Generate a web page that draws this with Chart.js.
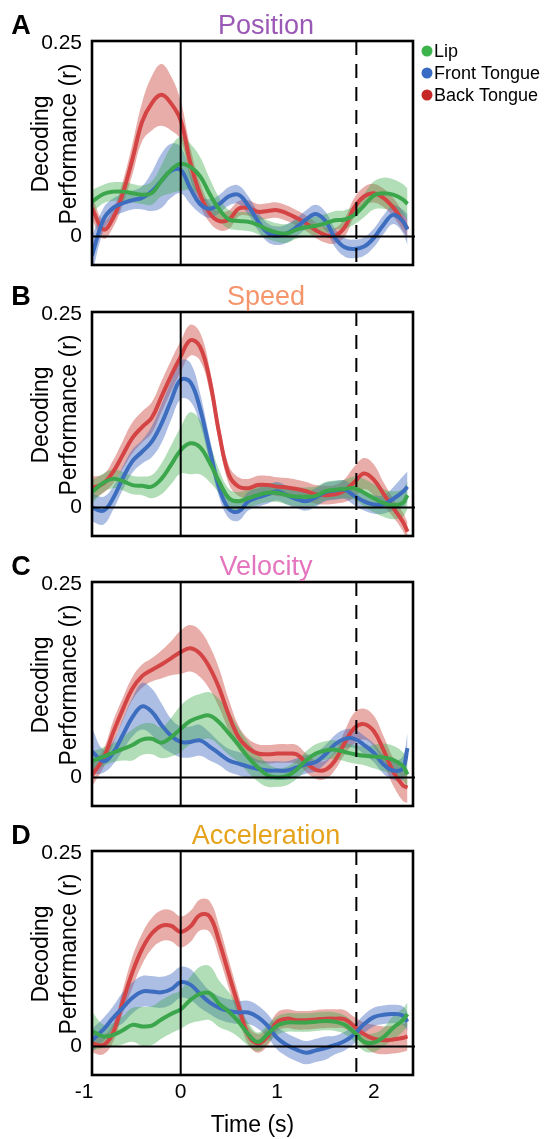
<!DOCTYPE html>
<html>
<head>
<meta charset="utf-8">
<script src="https://cdn.jsdelivr.net/npm/chart.js@4.4.1/dist/chart.umd.min.js"></script>
<style>
  body { margin: 0; background: #fff; }
  .panel { position: absolute; left: 0; }
</style>
</head>
<body>
<div class="panel" style="top:0px"><canvas id="chartA" width="551" height="270"></canvas></div>
<div class="panel" style="top:271px"><canvas id="chartB" width="551" height="270"></canvas></div>
<div class="panel" style="top:541px"><canvas id="chartC" width="551" height="270"></canvas></div>
<div class="panel" style="top:810px"><canvas id="chartD" width="551" height="329"></canvas></div>
<script>
// Time axis (s) and tick labels
const times = [-0.92,-0.8,-0.7,-0.6,-0.5,-0.4,-0.3,-0.2,-0.1,0,0.1,0.2,0.3,0.4,0.5,0.6,0.7,0.8,0.9,1.0,1.1,1.2,1.3,1.4,1.5,1.6,1.7,1.8,1.9,2.0,2.1,2.2,2.3,2.35];
const xTicks = [-1, 0, 1, 2];
const yTicks = [0, 0.25];
const seriesNames = ['Lip', 'Front Tongue', 'Back Tongue'];

// A - Position
const posLip = [0.045,0.055,0.058,0.058,0.056,0.054,0.056,0.072,0.086,0.094,0.090,0.078,0.055,0.035,0.022,0.020,0.019,0.015,0.009,0.005,0.004,0.009,0.012,0.014,0.017,0.021,0.022,0.028,0.040,0.053,0.056,0.054,0.048,0.042];
const posLipErr = [0.015,0.012,0.012,0.012,0.012,0.012,0.015,0.02,0.03,0.035,0.03,0.025,0.02,0.015,0.012,0.012,0.012,0.012,0.012,0.012,0.012,0.012,0.012,0.012,0.012,0.012,0.012,0.012,0.015,0.018,0.02,0.02,0.02,0.02];
const posFront = [-0.025,0.022,0.037,0.043,0.047,0.050,0.058,0.072,0.085,0.086,0.062,0.042,0.036,0.042,0.052,0.054,0.040,0.020,0.005,0.001,0.004,0.012,0.022,0.029,0.020,-0.002,-0.014,-0.016,-0.013,-0.002,0.015,0.028,0.020,0.009];
const posFrontErr = [0.025,0.015,0.012,0.012,0.012,0.015,0.025,0.035,0.035,0.03,0.02,0.012,0.012,0.012,0.012,0.012,0.012,0.012,0.012,0.012,0.012,0.012,0.012,0.012,0.012,0.012,0.012,0.012,0.012,0.012,0.012,0.012,0.015,0.02];
const posBack = [0.037,0.009,0.024,0.056,0.100,0.148,0.172,0.183,0.172,0.150,0.095,0.055,0.030,0.020,0.022,0.036,0.037,0.032,0.033,0.034,0.030,0.024,0.017,0.008,0.002,0.001,0.012,0.038,0.052,0.056,0.050,0.038,0.020,0.010];
const posBackErr = [0.015,0.012,0.012,0.015,0.02,0.025,0.035,0.04,0.035,0.025,0.02,0.015,0.012,0.012,0.012,0.01,0.01,0.01,0.01,0.01,0.01,0.01,0.01,0.01,0.01,0.01,0.012,0.012,0.012,0.012,0.012,0.012,0.012,0.012];

// B - Speed
const spdLip = [0.020,0.032,0.037,0.034,0.029,0.028,0.027,0.037,0.055,0.074,0.083,0.078,0.058,0.033,0.012,0.008,0.012,0.016,0.019,0.019,0.016,0.014,0.014,0.015,0.021,0.023,0.024,0.025,0.019,0.012,0.006,0.003,0.006,0.016];
const spdLipErr = [0.015,0.012,0.012,0.012,0.012,0.012,0.015,0.02,0.025,0.03,0.04,0.035,0.025,0.015,0.012,0.012,0.012,0.012,0.012,0.012,0.012,0.012,0.012,0.012,0.012,0.012,0.012,0.015,0.018,0.018,0.018,0.018,0.018,0.018];
const spdFront = [0.000,-0.004,0.012,0.038,0.060,0.072,0.085,0.108,0.138,0.165,0.162,0.128,0.075,0.025,-0.002,-0.005,0.008,0.013,0.017,0.021,0.016,0.011,0.008,0.013,0.020,0.022,0.023,0.015,0.008,0.004,0.004,0.011,0.020,0.027];
const spdFrontErr = [0.018,0.018,0.015,0.015,0.015,0.015,0.02,0.025,0.025,0.025,0.025,0.02,0.015,0.012,0.012,0.012,0.012,0.012,0.012,0.012,0.012,0.012,0.012,0.012,0.012,0.012,0.012,0.012,0.012,0.012,0.012,0.015,0.02,0.02];
const spdBack = [0.025,0.031,0.046,0.068,0.090,0.104,0.116,0.143,0.170,0.195,0.216,0.208,0.165,0.095,0.042,0.027,0.025,0.029,0.029,0.027,0.026,0.024,0.021,0.017,0.016,0.017,0.022,0.033,0.044,0.036,0.018,0.000,-0.018,-0.031];
const spdBackErr = [0.015,0.012,0.015,0.018,0.02,0.02,0.02,0.02,0.02,0.02,0.02,0.018,0.015,0.012,0.012,0.012,0.012,0.012,0.012,0.012,0.012,0.012,0.012,0.012,0.012,0.012,0.015,0.02,0.02,0.02,0.015,0.012,0.012,0.012];

// C - Velocity
const velLip = [0.021,0.027,0.032,0.037,0.042,0.049,0.050,0.045,0.052,0.063,0.073,0.078,0.080,0.071,0.057,0.042,0.026,0.013,0.003,0.000,0.002,0.010,0.022,0.031,0.035,0.036,0.033,0.030,0.028,0.027,0.026,0.023,0.015,0.004];
const velLipErr = [0.012,0.012,0.012,0.015,0.02,0.02,0.02,0.02,0.025,0.03,0.03,0.03,0.03,0.03,0.028,0.022,0.02,0.018,0.015,0.012,0.012,0.012,0.012,0.012,0.012,0.012,0.012,0.012,0.012,0.015,0.018,0.018,0.018,0.018];
const velFront = [0.034,0.021,0.032,0.055,0.078,0.092,0.085,0.068,0.054,0.046,0.046,0.048,0.040,0.031,0.022,0.018,0.014,0.011,0.009,0.009,0.009,0.013,0.017,0.020,0.030,0.043,0.050,0.050,0.042,0.032,0.017,0.009,0.012,0.038];
const velFrontErr = [0.03,0.015,0.015,0.02,0.025,0.03,0.03,0.028,0.022,0.02,0.02,0.02,0.018,0.015,0.015,0.015,0.015,0.012,0.012,0.012,0.012,0.012,0.012,0.012,0.012,0.012,0.012,0.012,0.012,0.012,0.012,0.012,0.015,0.02];
const velBack = [0.003,0.025,0.058,0.088,0.115,0.131,0.139,0.146,0.154,0.162,0.167,0.160,0.142,0.115,0.080,0.052,0.038,0.031,0.030,0.031,0.031,0.030,0.019,0.010,0.010,0.022,0.045,0.064,0.069,0.060,0.036,0.008,-0.010,-0.013];
const velBackErr = [0.015,0.012,0.015,0.015,0.015,0.015,0.015,0.018,0.022,0.028,0.03,0.03,0.028,0.025,0.02,0.015,0.012,0.012,0.012,0.012,0.012,0.012,0.012,0.012,0.012,0.012,0.015,0.02,0.02,0.02,0.018,0.018,0.02,0.02];

// D - Acceleration
const accLip = [0.020,0.013,0.015,0.021,0.028,0.026,0.027,0.035,0.042,0.048,0.060,0.068,0.069,0.055,0.045,0.032,0.016,0.006,0.016,0.027,0.031,0.031,0.031,0.032,0.033,0.032,0.028,0.018,0.006,0.005,0.012,0.024,0.034,0.042];
const accLipErr = [0.025,0.015,0.015,0.018,0.022,0.025,0.025,0.025,0.025,0.025,0.03,0.035,0.035,0.03,0.025,0.02,0.015,0.012,0.012,0.012,0.012,0.012,0.012,0.012,0.012,0.012,0.012,0.012,0.012,0.012,0.012,0.015,0.015,0.015];
const accFront = [0.008,0.022,0.037,0.050,0.063,0.071,0.071,0.070,0.074,0.083,0.080,0.068,0.057,0.050,0.046,0.044,0.044,0.038,0.027,0.011,0.002,-0.004,-0.008,-0.005,-0.002,0.002,0.007,0.016,0.029,0.038,0.041,0.042,0.040,0.032];
const accFrontErr = [0.015,0.015,0.015,0.02,0.02,0.02,0.02,0.02,0.02,0.02,0.02,0.018,0.015,0.015,0.015,0.015,0.015,0.015,0.015,0.015,0.015,0.015,0.015,0.015,0.015,0.012,0.012,0.012,0.012,0.012,0.012,0.012,0.012,0.012];
const accBack = [0.004,0.002,0.018,0.058,0.096,0.126,0.146,0.156,0.156,0.148,0.155,0.170,0.168,0.135,0.093,0.052,0.015,0.004,0.013,0.032,0.036,0.034,0.034,0.035,0.036,0.036,0.035,0.026,0.016,0.010,0.008,0.009,0.011,0.013];
const accBackErr = [0.012,0.012,0.012,0.015,0.02,0.02,0.02,0.02,0.02,0.02,0.02,0.02,0.02,0.02,0.018,0.015,0.012,0.012,0.012,0.012,0.012,0.012,0.012,0.012,0.012,0.012,0.012,0.012,0.015,0.018,0.018,0.018,0.018,0.018];

// Event markers (s)
const onsetTime = 0;
const offsetTime = 1.82;

const FONT = "'Liberation Sans', Arial, sans-serif";
const lineColors = ['#3ba64b', '#3d6dbf', '#d54444'];
const bandColors = ['rgba(60,170,75,0.40)', 'rgba(60,100,190,0.42)', 'rgba(200,60,50,0.42)'];
const dotColors = ['#3cb44b', '#3a6bc4', '#c62828'];

const panels = [
    { id: 'chartA', letter: 'A', title: 'Position', color: '#9b59b6', legend: true, xAxis: false,
      series: [[posLip, posLipErr], [posFront, posFrontErr], [posBack, posBackErr]] },
    { id: 'chartB', letter: 'B', title: 'Speed', color: '#f5956c', legend: false, xAxis: false,
      series: [[spdLip, spdLipErr], [spdFront, spdFrontErr], [spdBack, spdBackErr]] },
    { id: 'chartC', letter: 'C', title: 'Velocity', color: '#e374bd', legend: false, xAxis: false,
      series: [[velLip, velLipErr], [velFront, velFrontErr], [velBack, velBackErr]] },
    { id: 'chartD', letter: 'D', title: 'Acceleration', color: '#e5a21c', legend: false, xAxis: true,
      series: [[accLip, accLipErr], [accFront, accFrontErr], [accBack, accBackErr]] }
];

// Frame, reference lines and text for one panel
function makeDecor(panel) {
    return {
        id: 'decor' + panel.letter,
        afterDatasetsDraw(chart) {
            const ctx = chart.ctx;
            const a = chart.chartArea;
            const x = chart.scales.x, y = chart.scales.y;
            ctx.save();
            ctx.strokeStyle = '#000';
            ctx.lineWidth = 2;
            const y0 = y.getPixelForValue(0);
            ctx.beginPath(); ctx.moveTo(a.left, y0); ctx.lineTo(a.right + 2, y0); ctx.stroke();
            const xOn = x.getPixelForValue(onsetTime);
            ctx.beginPath(); ctx.moveTo(xOn, a.top); ctx.lineTo(xOn, a.bottom); ctx.stroke();
            const xOff = x.getPixelForValue(offsetTime);
            ctx.setLineDash([14, 9]);
            ctx.beginPath(); ctx.moveTo(xOff, a.top); ctx.lineTo(xOff, a.bottom); ctx.stroke();
            ctx.setLineDash([]);
            ctx.lineWidth = 2.6;
            ctx.strokeRect(a.left, a.top, a.right - a.left, a.bottom - a.top);
            ctx.restore();
        },
        afterDraw(chart) {
            const ctx = chart.ctx;
            ctx.save();
            // panel letter
            ctx.fillStyle = '#000';
            ctx.font = 'bold 27px ' + FONT;
            ctx.textAlign = 'center';
            ctx.textBaseline = 'alphabetic';
            ctx.fillText(panel.letter, 21, 34);
            // panel title
            ctx.fillStyle = panel.color;
            ctx.font = '27px ' + FONT;
            ctx.fillText(panel.title, 266, 34);
            // y axis title, two lines
            ctx.fillStyle = '#000';
            ctx.font = '23px ' + FONT;
            ctx.textBaseline = 'middle';
            ctx.translate(42, 144);
            ctx.rotate(-Math.PI / 2);
            ctx.fillText('Decoding', 0, 0);
            ctx.fillText('Performance (r)', 0, 28);
            ctx.restore();
            // legend
            if (panel.legend) {
                ctx.save();
                ctx.font = '18px ' + FONT;
                ctx.textBaseline = 'middle';
                seriesNames.forEach(function (name, i) {
                    const cy = 51 + i * 22;
                    ctx.fillStyle = dotColors[i];
                    ctx.beginPath(); ctx.arc(427, cy, 5.5, 0, Math.PI * 2); ctx.fill();
                    ctx.fillStyle = '#000';
                    ctx.fillText(name, 434, cy + 1);
                });
                ctx.restore();
            }
        }
    };
}

function buildDatasets(series) {
    const lines = [];
    const bands = [];
    series.forEach(function (s, i) {
        const mean = s[0], err = s[1];
        lines.push({
            label: seriesNames[i],
            data: times.map((t, k) => ({ x: t, y: mean[k] })),
            borderColor: lineColors[i],
            borderWidth: 4,
            pointRadius: 0,
            tension: 0.4,
            fill: false
        });
        bands.push({
            label: seriesNames[i] + ' upper',
            data: times.map((t, k) => ({ x: t, y: mean[k] + err[k] })),
            borderWidth: 0,
            borderColor: 'transparent',
            backgroundColor: bandColors[i],
            pointRadius: 0,
            tension: 0.4,
            fill: '+1'
        });
        bands.push({
            label: seriesNames[i] + ' lower',
            data: times.map((t, k) => ({ x: t, y: mean[k] - err[k] })),
            borderWidth: 0,
            borderColor: 'transparent',
            pointRadius: 0,
            tension: 0.4,
            fill: false
        });
    });
    // first dataset is drawn on top: lines first, bands after
    return lines.concat(bands);
}

panels.forEach(function (panel) {
    const ctx = document.getElementById(panel.id).getContext('2d');
    new Chart(ctx, {
        type: 'line',
        data: { datasets: buildDatasets(panel.series) },
        options: {
            responsive: false,
            animation: false,
            devicePixelRatio: 1,
            layout: { padding: { top: 41, right: 138, left: 0, bottom: panel.xAxis ? 0 : 5 } },
            plugins: { legend: { display: false }, tooltip: { enabled: false } },
            scales: {
                x: {
                    type: 'linear',
                    min: -0.919,
                    max: 2.407,
                    display: panel.xAxis,
                    grid: { display: false, drawTicks: false },
                    border: { display: false },
                    afterBuildTicks: s => { s.ticks = xTicks.map(v => ({ value: v })); },
                    afterFit: s => { s.height = panel.xAxis ? 64 : 0; s.paddingLeft = 0; s.paddingRight = 0; },
                    ticks: {
                        autoSkip: false,
                        maxRotation: 0,
                        padding: 5,
                        color: '#000',
                        font: { family: FONT, size: 21 },
                        callback: v => String(v)
                    },
                    title: {
                        display: true,
                        text: 'Time (s)',
                        color: '#000',
                        font: { family: FONT, size: 23 },
                        padding: { top: 0, bottom: 0 }
                    }
                },
                y: {
                    min: -0.0368,
                    max: 0.2526,
                    grid: { display: false, drawTicks: false },
                    border: { display: false },
                    afterBuildTicks: s => { s.ticks = yTicks.map(v => ({ value: v })); },
                    afterFit: s => { s.width = 92; s.paddingTop = 0; s.paddingBottom = 0; },
                    ticks: {
                        autoSkip: false,
                        padding: 10,
                        color: '#000',
                        font: { family: FONT, size: 21 },
                        callback: v => String(v)
                    }
                }
            }
        },
        plugins: [makeDecor(panel)]
    });
});
</script>
</body>
</html>
